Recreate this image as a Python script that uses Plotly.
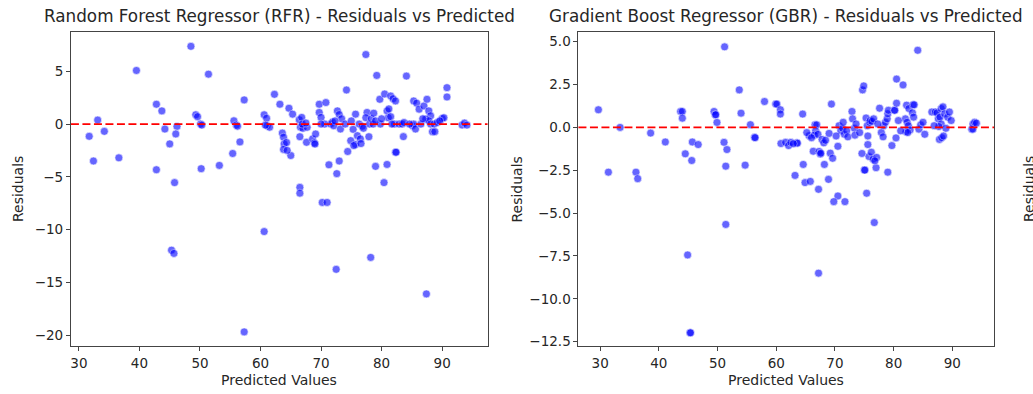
import plotly.graph_objects as go

# Random Forest Regressor: predicted values and residuals
rfr_pred = [31.7, 32.4, 33.1, 34.2, 36.6, 39.5, 42.8, 43.7, 42.8, 44.2, 45.0, 45.8, 46.2, 46.0,
            45.3, 45.7, 48.5, 49.3, 49.6, 50.1, 50.3, 50.2, 51.4, 53.2, 55.4, 55.6, 56.0, 56.2,
            56.6, 57.3, 57.3, 60.6, 60.6, 61.0, 61.1, 61.5, 62.3, 63.2, 63.6, 63.8, 63.9, 63.8,
            64.3, 64.7, 65.0, 65.3, 66.4, 66.8, 66.5, 66.6, 67.0, 67.7, 66.5, 66.5, 67.6, 68.6,
            68.9, 69.1, 69.0, 69.7, 69.7, 70.0, 70.8, 70.6, 71.3, 70.2, 71.0, 71.6, 71.9, 72.1,
            72.6, 73.0, 72.5, 72.7, 73.0, 73.2, 73.4, 74.2, 74.4, 74.9, 75.3, 75.7, 75.7, 76.0,
            76.3, 76.5, 76.8, 77.4, 77.6, 77.4, 78.0, 78.3, 78.6, 78.7, 79.2, 79.0, 79.7, 79.8,
            78.2, 80.4, 80.5, 80.9, 80.9, 81.1, 81.2, 81.5, 81.5, 81.9, 82.1, 82.3, 82.4, 82.3,
            82.9, 83.4, 83.6, 83.7, 84.1, 85.1, 85.3, 85.6, 85.3, 85.8, 86.2, 87.0, 87.5, 87.8,
            88.1, 87.3, 87.8, 88.1, 88.4, 88.8, 88.7, 89.2, 90.0, 90.3, 90.8, 90.8, 87.4, 93.3,
            93.7, 94.1, 74.0, 75.0, 77.0, 79.0, 80.0, 81.7, 84.6, 86.5, 86.8, 89.6, 60.8, 66.9,
            67.5, 72.3, 70.0, 75.4, 64.4, 76.6, 77.9]
rfr_resid = [-1.16, -3.5, 0.38, -0.69, -3.2, 5.08, 1.88, 1.25, -4.33, -0.47, -1.88, -5.55, -0.22, -0.94,
             -11.95, -12.26, 7.37, 0.88, 0.7, 0.0, -0.1, -4.23, 4.73, -3.92, -2.79, 0.31, -0.09, -0.2,
             -1.69, 2.29, -19.7, -10.19, 0.88, 0.55, -0.16, -0.3, 2.82, 1.88, -0.85, -1.25, -1.88, -2.4,
             -1.75, 1.5, -2.98, 0.94, 0.41, 0.63, -1.2, -0.3, -0.4, -0.3, -6.0, -6.55, -1.73, -1.41,
             -1.79, -0.94, -1.9, 1.88, 1.1, 0.63, 2.04, 0.0, -3.86, -7.43, -7.43, 0.0, 0.2, -0.16,
             -4.7, -3.5, -13.77, 1.25, 0.9, -0.47, 0.5, 3.23, -2.6, -1.57, -0.5, 0.94, -1.94, -1.1,
             0.0, -1.41, -0.2, 6.59, 1.1, 0.6, 0.0, 0.5, 0.0, 1.03, 4.61, -4.01, 2.35, 0.0,
             -12.64, -5.55, 2.85, -3.83, 1.25, 0.6, 1.44, 2.66, 0.7, 2.4, 0.0, -2.67, -2.67, 2.19,
             0.0, 0.0, -1.19, 0.15, 4.55, -0.16, 0.0, -0.47, 2.19, 1.98, 1.41, 1.72, 2.35, 1.25,
             0.78, 0.47, 0.31, 0.0, -0.72, -0.72, 0.0, 0.15, 0.53, 0.6, 3.45, 2.57, -16.1, -0.09,
             0.1, -0.1, 0.0, 0.3, -0.4, 0.3, 0.5, 0.0, 0.0, 0.0, 0.5, 0.3, -0.1, 0.0,
             0.1, 0.3, 0.0, -2.04, -2.5, -1.85, -1.2]

# Gradient Boost Regressor: predicted values and residuals
gbr_pred = [29.7, 31.4, 33.4, 36.1, 36.4, 38.6, 41.1, 43.7, 44.0, 44.0, 44.5, 45.6, 45.7, 46.7,
            44.9, 45.3, 45.4, 49.4, 49.6, 49.7, 49.9, 51.2, 51.1, 51.6, 51.4, 51.4, 53.7, 54.0,
            54.7, 55.6, 56.3, 56.4, 58.0, 59.9, 60.1, 60.7, 60.7, 60.8, 61.6, 62.1, 62.5, 63.5,
            63.6, 63.2, 64.5, 64.6, 64.9, 65.8, 65.6, 66.3, 66.6, 66.9, 66.7, 66.5, 67.1, 67.2,
            67.3, 67.5, 67.6, 68.2, 67.8, 68.1, 68.4, 68.9, 69.4, 69.2, 69.6, 70.5, 70.5, 69.8,
            71.7, 67.2, 70.7, 71.0, 71.3, 71.6, 72.0, 72.2, 72.9, 73.0, 73.3, 73.4, 73.6, 74.7,
            74.9, 74.6, 75.0, 75.1, 75.4, 76.7, 75.3, 75.5, 75.6, 75.6, 75.9, 76.0, 76.3, 76.6,
            75.8, 76.2, 76.5, 77.0, 77.6, 77.9, 78.2, 78.3, 78.6, 78.9, 79.0, 79.1, 79.0, 79.7,
            80.1, 80.2, 80.5, 80.5, 80.4, 81.6, 82.0, 82.3, 82.5, 82.8, 82.1, 82.4, 82.2, 82.6,
            83.3, 83.5, 83.2, 83.4, 84.1, 84.3, 84.6, 85.3, 86.5, 87.1, 87.4, 87.6, 87.9, 88.1,
            87.7, 88.1, 88.4, 88.7, 88.9, 89.2, 89.5, 87.8, 88.2, 88.5, 93.3, 93.5, 93.5, 93.8,
            94.1, 62.9, 65.2, 66.0, 69.0, 70.2, 71.4, 74.2, 77.3, 80.8, 81.2, 85.0, 86.9, 89.8,
            77.1, 76.8]
gbr_resid = [1.03, -2.61, 0.0, -2.61, -2.99, -0.33, -0.85, 0.93, 0.93, 0.54, -1.54, -1.93, -0.85, -1.0,
             -7.44, -11.98, -11.98, 0.93, 0.74, 0.74, 0.29, 4.7, -0.87, -1.29, -2.26, -5.66, 2.19, 0.83,
             -2.2, 0.16, -0.58, -0.6, 1.51, 1.36, 1.36, 1.03, 0.78, -0.94, -0.87, -1.06, -0.87, -0.9,
             -0.92, -2.8, 0.78, -2.16, -3.22, -3.15, -0.48, -1.39, 0.15, 0.15, -0.2, -0.45, -0.4, -3.61,
             -1.4, -1.55, -1.5, -2.16, -0.7, -0.9, -0.75, -3.03, 1.36, -1.5, -1.8, -1.1, -4.0, -4.33,
             -4.33, -8.5, 0.1, -0.2, -0.05, -0.4, -0.2, -0.55, 0.93, 0.5, -0.05, -0.45, 0.2, 2.19,
             2.42, -1.52, -2.49, -2.49, -3.84, -5.55, 0.55, 0.1, -0.5, -1.0, 0.3, 0.4, 0.35, 0.5,
             -1.7, -1.45, -1.85, -2.35, 1.12, -0.3, -0.55, 0.1, 0.3, 0.5, 0.8, 1.0, -2.61, -1.06,
             1.0, 1.0, 2.82, 1.41, -0.61, 2.48, 0.5, 0.3, 0.1, -0.15, -0.25, -0.3, 1.3, 1.1,
             1.32, 1.32, 0.85, 0.6, 4.5, -0.1, 0.15, -0.4, 0.9, 0.9, 0.85, 0.5, 0.6, 0.2,
             0.05, 1.1, 1.2, 0.8, -0.05, 0.6, 0.9, -0.7, -0.6, -0.5, -0.1, -0.1, 0.2, 0.3,
             0.25, -0.95, -0.3, -0.6, -0.35, -0.5, 0.3, -0.3, 0.2, 0.4, -0.2, 0.3, 0.1, 0.4,
             -1.75, -1.95]

titles = ["Random Forest Regressor (RFR) - Residuals vs Predicted",
          "Gradient Boost Regressor (GBR) - Residuals vs Predicted"]
x_label = "Predicted Values"
y_label = "Residuals"
x_ticks = [30, 40, 50, 60, 70, 80, 90]
rfr_y_ticks = [-20, -15, -10, -5, 0, 5]
gbr_y_ticks = [-12.5, -10.0, -7.5, -5.0, -2.5, 0.0, 2.5, 5.0]

W, H = 1033, 394
FONT = "DejaVu Sans, Verdana, sans-serif"
TEXT = "#262626"
SPINE = "#444444"

# panel boxes in pixels: left, right, top, bottom
panels = [(70, 487, 32, 349), (578, 994, 32, 349)]


def xdom(p):
    return [p[0] / W, p[1] / W]


def ydom(p):
    return [1 - p[3] / H, 1 - p[2] / H]


marker = dict(color="blue", size=8, opacity=0.6, line=dict(color="white", width=0.6))

fig = go.Figure()
fig.add_trace(go.Scatter(x=rfr_pred, y=rfr_resid, mode="markers", marker=marker,
                         xaxis="x", yaxis="y", showlegend=False, hoverinfo="x+y"))
fig.add_trace(go.Scatter(x=gbr_pred, y=gbr_resid, mode="markers", marker=marker,
                         xaxis="x2", yaxis="y2", showlegend=False, hoverinfo="x+y"))

axis_common = dict(showgrid=False, zeroline=False, showline=True, mirror=True,
                   linecolor=SPINE, linewidth=1, ticks="outside", ticklen=4,
                   tickwidth=1, tickcolor=SPINE,
                   tickfont=dict(family=FONT, size=13.5, color=TEXT))

fig.update_layout(
    width=W, height=H,
    margin=dict(l=0, r=0, t=0, b=0),
    paper_bgcolor="white", plot_bgcolor="white",
    xaxis=dict(domain=xdom(panels[0]), range=[28.68, 97.5], tickvals=x_ticks,
               anchor="y", **axis_common),
    yaxis=dict(domain=ydom(panels[0]), range=[-21.07, 8.75], tickvals=rfr_y_ticks,
               anchor="x", **axis_common),
    xaxis2=dict(domain=xdom(panels[1]), range=[26.3, 97.1], tickvals=x_ticks,
                anchor="y2", **axis_common),
    yaxis2=dict(domain=ydom(panels[1]), range=[-12.77, 5.58], tickvals=gbr_y_ticks,
                tickformat=".1f", anchor="x2", **axis_common),
)

# zero-residual reference lines across each panel
for xr, yr in (("x", "y"), ("x2", "y2")):
    fig.add_shape(type="line", xref=f"{xr} domain", yref=yr, x0=0, x1=1, y0=0, y1=0,
                  line=dict(color="red", width=1.8, dash="8px,3.5px"))

for i, p in enumerate(panels):
    cx = (p[0] + p[1]) / 2 / W
    fig.add_annotation(text=titles[i], x=cx, y=1 - 16.5 / H, xref="paper", yref="paper",
                       showarrow=False, xanchor="center", yanchor="middle",
                       font=dict(family=FONT, size=16.8, color=TEXT))
    fig.add_annotation(text=x_label, x=cx, y=1 - 383 / H, xref="paper", yref="paper",
                       showarrow=False, xanchor="center", yanchor="middle",
                       font=dict(family=FONT, size=14, color=TEXT))

# rotated y-axis titles (the last one belongs to a panel continuing past the right edge)
for xpix in (17, 517, 1029):
    fig.add_annotation(text=y_label, x=xpix / W, y=1 - 190.5 / H, xref="paper", yref="paper",
                       showarrow=False, xanchor="center", yanchor="middle", textangle=-90,
                       font=dict(family=FONT, size=14, color=TEXT))

fig.write_html("out.html")
